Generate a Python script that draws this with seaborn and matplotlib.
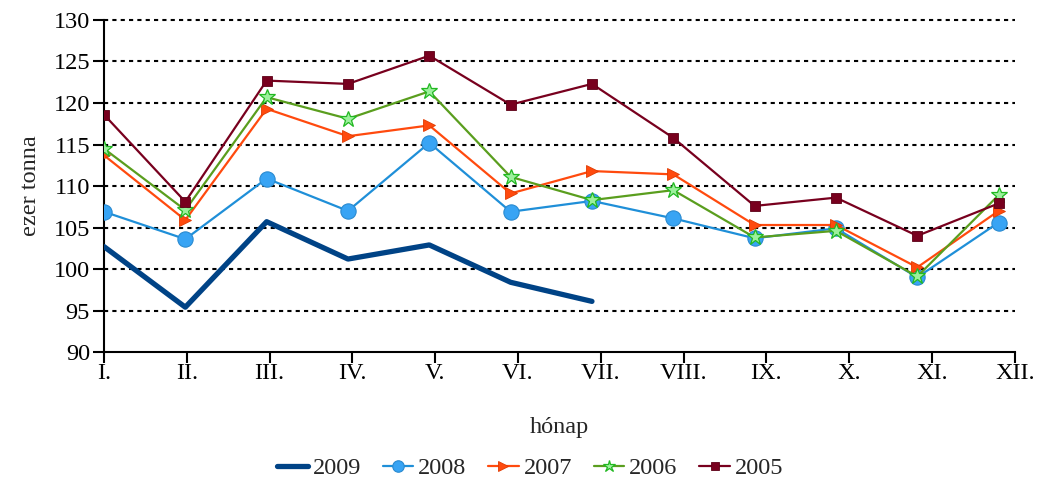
import pandas as pd
import matplotlib.pyplot as plt
import seaborn as sns
import numpy as np

months = ["I.", "II.", "III.", "IV.", "V.", "VI.", "VII.", "VIII.", "IX.", "X.", "XI.", "XII."]

y2009 = [102.7, 95.4, 105.7, 101.2, 102.9, 98.4, 96.1]
y2008 = [106.9, 103.6, 110.9, 107.0, 115.2, 106.9, 108.2, 106.1, 103.7, 104.9, 99.0, 105.6]
y2007 = [113.7, 105.9, 119.3, 116.0, 117.3, 109.1, 111.8, 111.4, 105.3, 105.3, 100.2, 107.0]
y2006 = [114.5, 107.1, 120.7, 118.1, 121.4, 111.1, 108.3, 109.5, 103.8, 104.6, 99.1, 108.9]
y2005 = [118.6, 108.1, 122.7, 122.3, 125.7, 119.8, 122.3, 115.8, 107.6, 108.6, 104.0, 107.9]

sns.set_style("white")
plt.rcParams['font.family'] = ['Liberation Serif', 'DejaVu Serif']

fig = plt.figure(figsize=(10.41, 4.83), dpi=100)
ax = fig.add_axes([0.0999, 0.2712, 0.875, 0.6874])

x_all = np.arange(len(months))

styles = [
    ("2009", y2009, dict(color="#004386", linewidth=3.8, marker=None)),
    ("2008", y2008, dict(color="#1F8FD8", linewidth=1.6, marker="o", markersize=11,
                         markerfacecolor="#38A4F4", markeredgecolor="#2A8AD0", markeredgewidth=0.8)),
    ("2007", y2007, dict(color="#FF4A0E", linewidth=1.6, marker=">", markersize=9,
                         markerfacecolor="#FF4A0E", markeredgecolor="#E03A00", markeredgewidth=0.6)),
    ("2006", y2006, dict(color="#5A9E1E", linewidth=1.6, marker="*", markersize=12,
                         markerfacecolor="#9CF09C", markeredgecolor="#22B822", markeredgewidth=0.9)),
    ("2005", y2005, dict(color="#78001E", linewidth=1.6, marker="s", markersize=7.5,
                         markerfacecolor="#78001E", markeredgecolor="#5C0016", markeredgewidth=0.6)),
]

for label, vals, kw in styles:
    sns.lineplot(x=x_all[:len(vals)], y=vals, ax=ax, label=label, zorder=3, **kw)

# gridlines
for v in np.arange(95, 131, 5):
    ax.axhline(v, color="black", linestyle=(0, (2, 2)), linewidth=1.5, zorder=1, clip_on=False)

ax.set_ylim(90, 130)
ax.set_xlim(0, 11.2)
ax.set_yticks(np.arange(90, 131, 5))
ax.set_xticks(np.linspace(0, 11.2, 12))
ax.set_xticklabels(months)

for s in ["top", "right"]:
    ax.spines[s].set_visible(False)
for s in ["left", "bottom"]:
    ax.spines[s].set_color("black")
    ax.spines[s].set_linewidth(1.5)

ax.tick_params(axis="both", direction="out", length=8, width=1.5, colors="black",
               labelsize=17.5, left=True, bottom=True)
ax.tick_params(axis="y", pad=2)
ax.tick_params(axis="x", pad=0)

ax.set_ylabel("ezer tonna", fontsize=17.5, labelpad=9)
ax.set_xlabel("hónap", fontsize=17.5, labelpad=24)

leg = ax.legend(loc="center", bbox_to_anchor=(0.468, -0.35), ncol=5, frameon=False,
                fontsize=17.5, handlelength=1.25, handletextpad=0.2, columnspacing=0.9,
                markerscale=0.75)

fig.savefig("out.png", dpi=100)
